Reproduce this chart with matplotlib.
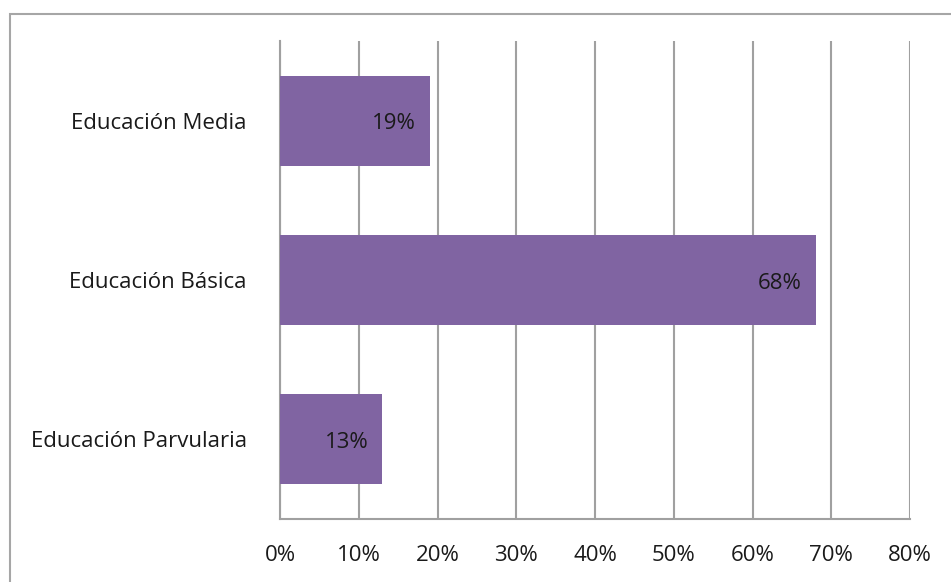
import matplotlib.pyplot as plt
from matplotlib.patches import Rectangle

categories = ['Educación Parvularia', 'Educación Básica', 'Educación Media']
values = [13, 68, 19]
tick_vals = [0, 10, 20, 30, 40, 50, 60, 70, 80]
tick_labels = ['0%', '10%', '20%', '30%', '40%', '50%', '60%', '70%', '80%']

W, H = 951, 582
plt.rcParams['font.family'] = ['Open Sans', 'DejaVu Sans']

fig = plt.figure(figsize=(W / 100, H / 100), dpi=100)

# outer chart frame (right and bottom edges run off the picture)
fig.patches.append(Rectangle((10 / W, 0 - 0.01), 1.0, 1 - 14 / H + 0.01,
                             transform=fig.transFigure, fill=False,
                             edgecolor='#A6A6A6', linewidth=1.5))

ax = fig.add_axes([280 / W, 1 - 519 / H, 630 / W, 478 / H])
grid_c = '#A0A0A0'
fs = 16
txt_c = '#1a1a1a'

ax.barh(range(len(categories)), values, height=0.565, color='#8064A2', zorder=3)
ax.set_xlim(0, 80)
ax.set_ylim(-0.5, len(categories) - 0.5)

for i, v in enumerate(values):
    ax.annotate(f'{v}%', (v, i), xytext=(-14, -3), textcoords='offset pixels',
                ha='right', va='center', fontsize=fs, color=txt_c, zorder=4)

ax.set_xticks(tick_vals)
ax.set_xticklabels(tick_labels, fontsize=fs, color=txt_c)
ax.set_yticks(range(len(categories)))
ax.set_yticklabels(categories, fontsize=fs, color=txt_c)
ax.tick_params(axis='x', length=0, pad=19)
ax.tick_params(axis='y', length=0, pad=24)

ax.grid(axis='x', color=grid_c, linewidth=1.5, zorder=0)
for s in ['top', 'right']:
    ax.spines[s].set_visible(False)
for s in ['left', 'bottom']:
    ax.spines[s].set_color(grid_c)
    ax.spines[s].set_linewidth(1.5)

fig.savefig('out.png', dpi=100)
